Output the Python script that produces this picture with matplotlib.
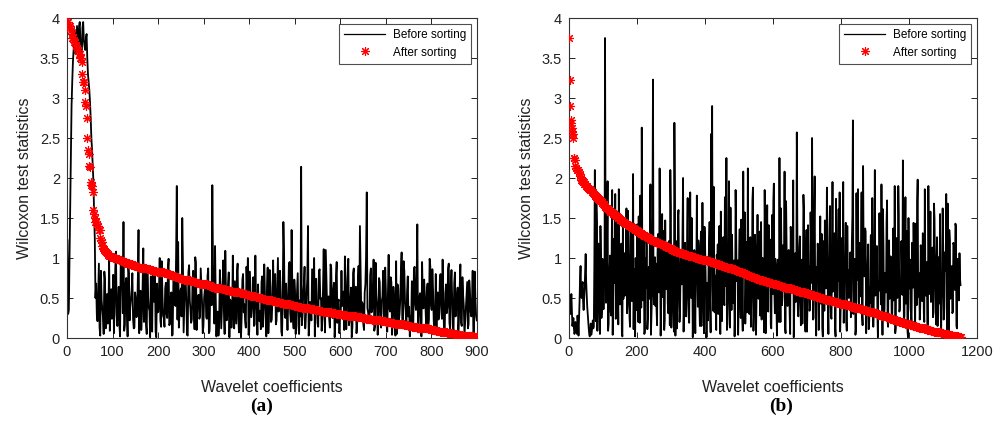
import matplotlib
matplotlib.use("Agg")
import matplotlib.pyplot as plt
from matplotlib.ticker import FuncFormatter

plt.rcParams['font.family'] = ['Liberation Sans', 'DejaVu Sans']

# ---------------- data ----------------
# Two interleaved read-outs per panel: samples at x = 1 + 3i and at x = 2.5 + 3i.
coef_step = 1.5

# panel (a): 900 wavelet coefficients, before sorting
before_a_head = [1.22, 0.35, 1.6, 2.9, 3.45, 3.7, 3.55, 3.9, 3.62, 3.95, 3.5,
                 3.88, 3.72, 3.6, 3.8, 3.3, 3.1, 2.75, 2.35, 1.95, 1.25]
before_a_head_mid = [0.30, 1.00, 2.30, 3.20, 3.60, 3.85, 3.65, 3.75, 3.90, 3.70, 3.55,
                     3.95, 3.65, 3.75, 3.50, 3.20, 2.95, 2.50, 2.15, 1.55, 0.50]
before_a_tail = [
    0.68, 0.21, 0.93, 0.03, 0.47, 0.26, 0.83, 0.12, 0.55, 0.37,
    0.09, 0.61, 0.33, 0.06, 0.88, 0.29, 0.44, 0.17, 1.01, 0.72,
    1.45, 0.16, 0.75, 0.02, 0.81, 0.39, 0.60, 0.24, 0.13, 0.49,
    0.30, 1.35, 0.42, 0.10, 0.66, 0.20, 0.90, 0.05, 0.53, 0.34,
    0.77, 0.08, 0.51, 0.86, 0.01, 0.32, 0.63, 0.22, 0.96, 0.28,
    0.14, 0.69, 0.25, 0.99, 0.18, 0.57, 0.04, 0.79, 0.40, 1.90,
    1.20, 0.31, 0.62, 1.50, 0.07, 0.74, 0.45, 0.03, 0.91, 0.36,
    0.23, 0.84, 0.11, 0.94, 0.38, 0.54, 0.27, 0.67, 0.06, 0.50,
    0.71, 0.24, 0.87, 0.09, 0.59, 1.91, 0.43, 1.15, 0.02, 0.33,
    0.19, 0.65, 0.35, 0.97, 0.05, 0.56, 0.28, 0.82, 0.48, 0.13,
    1.03, 0.12, 0.46, 0.80, 0.25, 0.61, 0.01, 0.73, 0.32, 0.21,
    0.89, 1.00, 0.08, 0.53, 0.37, 0.76, 0.17, 0.42, 0.04, 0.30,
    0.34, 0.70, 0.14, 0.92, 0.26, 0.63, 0.06, 0.85, 0.20, 0.51,
    0.44, 0.80, 0.22, 1.00, 0.39, 0.57, 0.03, 1.45, 0.29, 0.68,
    0.10, 0.91, 0.31, 1.35, 0.24, 0.73, 0.05, 0.60, 0.16, 0.47,
    2.14, 0.27, 0.66, 0.12, 0.55, 1.40, 0.20, 0.41, 0.86, 0.36,
    0.02, 0.74, 0.18, 0.83, 0.49, 0.09, 0.62, 0.30, 1.10, 0.38,
    0.52, 0.13, 0.88, 0.25, 0.69, 0.21, 0.95, 0.45, 0.06, 0.34,
    0.40, 0.58, 1.02, 0.11, 0.72, 0.16, 0.48, 0.01, 0.81, 0.28,
    0.64, 0.19, 0.90, 1.40, 0.29, 0.43, 0.10, 0.67, 1.82, 0.32,
    0.22, 0.87, 0.36, 0.98, 0.14, 0.54, 0.04, 0.75, 0.26, 0.46,
    0.84, 0.17, 0.59, 0.08, 1.04, 0.33, 0.70, 0.23, 0.50, 0.03,
    0.05, 0.62, 0.30, 0.82, 0.20, 0.96, 0.44, 0.12, 0.77, 0.39,
    0.27, 0.71, 0.09, 0.89, 0.35, 1.42, 0.18, 0.56, 0.02, 0.49,
    0.73, 0.37, 0.60, 0.15, 0.99, 0.42, 0.86, 0.21, 0.31, 0.06,
    0.57, 0.29, 0.80, 0.24, 0.47, 0.03, 0.67, 0.38, 0.93, 0.11,
    0.85, 0.14, 0.69, 0.27, 0.52, 0.07, 0.63, 0.19, 0.76, 0.40,
    0.20, 0.55, 0.12, 0.72, 0.33, 0.45, 0.04, 0.83, 0.28,
]
before_a_tail_mid = [
    0.28, 0.56, 0.13, 0.84, 0.36, 0.05, 0.71, 0.44, 0.18, 0.97,
    0.52, 0.24, 0.79, 0.40, 1.08, 0.15, 0.64, 0.02, 0.88, 0.31,
    0.09, 0.67, 0.34, 0.92, 0.22, 0.48, 0.81, 0.12, 0.57, 0.26,
    0.74, 0.06, 0.59, 0.29, 1.12, 0.43, 0.17, 0.83, 0.38, 0.01,
    0.21, 0.89, 0.45, 0.08, 0.68, 0.33, 1.00, 0.14, 0.55, 0.25,
    0.62, 0.30, 0.86, 0.16, 0.50, 0.03, 0.73, 0.42, 1.05, 0.23,
    0.13, 0.58, 0.27, 0.94, 0.39, 0.72, 0.04, 0.82, 0.47, 0.19,
    0.69, 0.35, 1.01, 0.10, 0.53, 0.24, 0.87, 0.44, 0.15, 0.60,
    0.26, 0.78, 0.06, 0.63, 0.41, 0.90, 0.18, 0.51, 0.32, 0.03,
    0.85, 0.12, 0.57, 0.37, 1.09, 0.22, 0.66, 0.01, 0.46, 0.30,
    0.34, 0.71, 0.18, 0.93, 0.07, 0.52, 0.29, 0.80, 0.42, 0.13,
    0.60, 0.04, 0.83, 0.26, 0.49, 0.15, 1.03, 0.36, 0.67, 0.21,
    0.11, 0.77, 0.40, 0.56, 0.02, 0.88, 0.31, 0.64, 0.23, 0.97,
    0.72, 0.17, 0.61, 0.33, 0.84, 0.08, 0.47, 1.06, 0.25, 0.39,
    0.43, 0.95, 0.20, 0.68, 0.12, 0.58, 0.36, 0.81, 0.05, 0.27,
    0.16, 0.54, 0.89, 0.30, 0.75, 0.03, 0.45, 0.22, 0.62, 1.00,
    0.65, 0.38, 0.14, 0.86, 0.50, 0.26, 1.11, 0.07, 0.71, 0.33,
    0.24, 0.92, 0.41, 0.59, 0.01, 0.78, 0.19, 0.48, 0.31, 0.84,
    0.56, 0.10, 0.74, 0.35, 0.99, 0.23, 0.63, 0.14, 0.87, 0.42,
    0.06, 0.69, 0.28, 0.82, 0.45, 0.17, 0.57, 1.02, 0.37, 0.20,
    0.79, 0.32, 0.61, 0.09, 0.94, 0.41, 0.25, 0.70, 0.13, 0.52,
    0.30, 0.88, 0.16, 0.55, 0.38, 0.76, 0.04, 0.64, 0.22, 0.96,
    0.67, 0.21, 0.47, 1.07, 0.12, 0.83, 0.34, 0.58, 0.27, 0.02,
    0.18, 0.60, 0.86, 0.43, 0.73, 0.07, 0.51, 0.29, 0.95, 0.37,
    0.53, 0.14, 0.68, 0.24, 0.90, 0.35, 0.61, 0.05, 0.80, 0.45,
    0.23, 0.75, 0.40, 0.98, 0.11, 0.56, 0.31, 0.87, 0.19, 0.66,
    0.48, 0.08, 0.82, 0.36, 0.63, 0.26, 0.92, 0.15, 0.54, 0.03,
    0.39, 0.70, 0.17, 0.59, 0.27, 0.84, 0.10, 0.50, 0.22,
]

# panel (b): 1150 wavelet coefficients, before sorting
before_b_head = [0.50, 0.30, 0.55, 0.15, 0.25, 0.05, 0.20, 0.10, 0.28, 0.03,
                 0.45, 0.90, 0.50, 0.70, 0.35, 0.62, 1.05, 0.55, 0.30, 0.12,
                 0.02, 0.18, 0.08, 0.22, 0.15]
before_b_head_mid = [0.40, 0.42, 0.35, 0.20, 0.12, 0.08, 0.15, 0.05, 0.18, 0.25,
                     0.75, 0.60, 0.65, 0.45, 0.50, 0.85, 0.70, 0.40, 0.20, 0.05,
                     0.10, 0.04, 0.15, 0.12, 0.90]
before_b_tail = [
    2.10, 0.21, 1.45, 0.52, 1.12, 0.05, 0.98, 0.38, 0.81, 0.66,
    3.75, 0.44, 1.25, 0.09, 0.70, 1.03, 0.28, 1.85, 0.58, 0.88,
    1.80, 0.33, 1.58, 0.17, 0.92, 0.62, 1.18, 0.02, 0.49, 1.06,
    0.76, 1.62, 0.41, 1.10, 0.26, 1.38, 0.55, 0.96, 0.11, 0.68,
    1.00, 0.35, 0.84, 1.52, 0.19, 0.71, 2.63, 0.47, 1.28, 0.07,
    0.63, 1.14, 0.24, 0.89, 1.35, 0.04, 0.53, 3.23, 0.42, 1.01,
    0.93, 0.16, 1.30, 0.57, 1.04, 0.37, 1.55, 0.74, 0.10, 1.47,
    0.61, 1.09, 0.31, 0.86, 2.10, 0.13, 0.99, 0.48, 2.69, 0.03,
    1.21, 0.45, 1.60, 0.20, 0.79, 0.67, 1.42, 0.08, 0.97, 0.36,
    0.56, 1.75, 0.27, 1.16, 0.72, 1.50, 0.01, 0.90, 0.43, 1.07,
    1.78, 0.39, 1.05, 0.15, 1.33, 0.64, 0.83, 0.06, 1.24, 0.50,
    0.69, 0.22, 1.19, 0.46, 2.55, 2.90, 0.34, 0.95, 0.78, 0.10,
    0.87, 0.30, 1.40, 0.05, 1.02, 0.59, 1.26, 0.41, 0.65, 2.25,
    0.18, 1.13, 0.54, 1.63, 0.35, 0.80, 0.94, 0.02, 1.85, 0.73,
    0.97, 0.44, 1.36, 0.25, 1.20, 0.09, 0.85, 1.57, 0.60, 0.32,
    2.12, 0.51, 1.06, 0.14, 0.75, 1.88, 0.38, 1.29, 0.04, 0.88,
    0.62, 1.01, 0.28, 1.45, 0.47, 0.91, 0.07, 1.17, 0.70, 1.66,
    0.33, 0.84, 1.23, 0.12, 1.54, 1.72, 0.58, 0.99, 0.42, 0.66,
    0.74, 2.25, 0.20, 1.04, 0.52, 0.90, 2.08, 0.06, 1.15, 0.40,
    1.10, 0.29, 1.39, 0.63, 0.95, 0.01, 0.82, 0.45, 2.57, 0.36,
    0.55, 1.27, 0.16, 0.98, 0.69, 1.60, 0.31, 0.87, 0.08, 1.41,
    0.90, 0.39, 1.08, 2.50, 0.23, 1.48, 0.60, 0.03, 0.77, 1.00,
    0.48, 1.52, 0.71, 0.13, 1.21, 0.34, 1.05, 0.80, 1.35, 0.05,
    1.03, 0.57, 0.24, 1.95, 0.67, 1.31, 0.02, 0.89, 0.43, 1.61,
    1.82, 0.37, 1.14, 0.62, 0.19, 0.96, 1.44, 0.09, 0.82, 0.50,
    0.73, 0.26, 1.20, 2.72, 0.46, 0.99, 0.11, 0.86, 1.86, 0.41,
    0.59, 1.06, 0.30, 2.15, 0.79, 1.37, 0.06, 0.65, 1.17, 0.21,
    0.44, 1.29, 1.75, 0.14, 0.93, 0.53, 1.01, 0.32, 0.70, 1.56,
    0.85, 1.92, 0.04, 1.11, 0.36, 0.61, 1.46, 0.22, 0.97, 0.49,
    1.02, 0.27, 0.76, 0.47, 1.90, 0.12, 1.25, 0.66, 1.53, 0.35,
    0.58, 0.92, 2.22, 0.18, 1.09, 0.43, 1.34, 0.01, 0.72, 0.98,
    0.29, 1.19, 0.63, 0.95, 0.10, 1.43, 1.70, 0.51, 0.81, 0.38,
    1.04, 0.46, 1.27, 0.20, 0.88, 0.67, 0.07, 1.90, 0.55, 1.58,
    0.69, 1.13, 0.32, 1.50, 0.56, 0.94, 0.15, 1.01, 0.78, 0.40,
    0.50, 1.62, 0.23, 1.07, 0.84, 0.37, 1.68, 0.04, 1.22, 0.64,
    0.90, 0.33, 1.16, 0.60, 1.40, 0.12, 0.99, 0.47, 0.75,
]
before_b_tail_mid = [
    0.47, 1.71, 0.09, 1.18, 0.63, 1.40, 0.25, 0.99, 0.36, 0.80,
    1.36, 0.55, 1.96, 0.17, 0.88, 0.33, 1.02, 0.04, 1.24, 0.69,
    0.24, 1.12, 0.61, 1.86, 0.42, 0.95, 0.07, 1.49, 0.77, 0.53,
    1.05, 0.31, 1.59, 0.72, 0.14, 1.30, 0.46, 2.05, 0.86, 0.02,
    0.66, 1.42, 0.20, 0.91, 1.78, 0.38, 1.15, 0.58, 0.05, 1.00,
    1.27, 0.11, 0.82, 0.49, 1.92, 0.28, 1.55, 0.64, 0.97, 0.40,
    0.35, 1.08, 0.70, 2.12, 0.03, 0.93, 0.51, 1.34, 0.22, 0.78,
    0.89, 0.43, 1.21, 0.16, 1.64, 0.60, 1.03, 0.08, 1.74, 0.57,
    0.12, 1.51, 0.84, 0.34, 1.06, 0.74, 2.00, 0.45, 1.19, 0.27,
    1.31, 0.62, 0.19, 1.82, 0.50, 0.96, 0.37, 1.10, 0.06, 0.81,
    0.73, 1.22, 0.41, 0.99, 0.15, 1.69, 0.59, 1.39, 0.87, 0.01,
    0.26, 0.92, 1.45, 0.07, 1.14, 0.65, 1.89, 0.32, 0.54, 1.04,
    1.17, 0.39, 0.76, 1.58, 0.21, 1.01, 0.48, 1.76, 0.68, 0.10,
    0.57, 1.96, 0.13, 0.85, 1.29, 0.44, 0.97, 0.29, 1.37, 0.71,
    0.04, 1.06, 0.63, 1.48, 0.35, 2.08, 0.79, 0.18, 1.20, 0.52,
    0.94, 0.30, 1.26, 0.46, 1.72, 0.09, 0.67, 1.03, 0.42, 1.54,
    0.49, 1.33, 0.83, 0.23, 1.00, 0.61, 1.85, 0.06, 1.12, 0.38,
    1.41, 0.72, 0.16, 1.09, 0.55, 1.93, 0.31, 0.90, 0.03, 0.98,
    0.20, 0.87, 1.62, 0.41, 1.16, 0.70, 0.12, 1.71, 0.58, 1.02,
    0.80, 0.05, 1.23, 0.64, 1.97, 0.36, 1.06, 0.47, 1.44, 0.27,
    1.13, 0.53, 0.95, 0.18, 1.79, 0.75, 0.08, 1.35, 0.44, 0.66,
    0.34, 1.57, 0.69, 1.01, 0.25, 2.02, 0.56, 0.89, 1.18, 0.10,
    0.96, 0.43, 1.30, 0.02, 0.83, 1.47, 0.62, 1.88, 0.33, 0.76,
    1.65, 0.27, 0.92, 0.58, 1.11, 0.13, 1.74, 0.40, 1.00, 0.71,
    0.08, 1.25, 0.46, 1.95, 0.68, 0.98, 0.21, 1.40, 0.85, 0.55,
    1.07, 0.61, 1.53, 0.30, 0.91, 0.04, 1.81, 0.73, 0.45, 1.19,
    0.52, 1.82, 0.16, 1.04, 0.77, 1.33, 0.39, 0.95, 0.11, 0.63,
    1.28, 0.35, 0.86, 0.48, 2.10, 0.67, 1.15, 0.01, 0.59, 0.97,
    0.42, 1.03, 1.61, 0.24, 0.81, 0.57, 1.72, 0.14, 1.22, 0.70,
    0.93, 0.19, 1.37, 0.74, 0.06, 1.09, 0.50, 1.90, 0.33, 0.64,
    1.21, 0.54, 0.99, 0.28, 1.76, 0.84, 0.09, 1.50, 0.62, 0.37,
    0.13, 0.88, 1.44, 0.60, 1.06, 0.41, 1.98, 0.72, 0.23, 1.16,
    0.69, 1.31, 0.32, 1.86, 0.53, 0.95, 0.05, 1.10, 0.79, 0.45,
    1.02, 0.26, 1.68, 0.82, 0.17, 1.26, 0.65, 0.43, 1.55, 0.08,
    0.58, 1.14, 0.37, 0.96, 1.80, 0.03, 0.76, 1.35, 0.49, 0.87,
    0.31, 1.19, 0.71, 1.43, 0.15, 0.94, 0.52, 1.06, 0.66,
]


def interleave(first, second):
    return [v for pair in zip(first, second) for v in pair]


before_a = interleave(before_a_head + before_a_tail, before_a_head_mid + before_a_tail_mid)
before_b = interleave(before_b_head + before_b_tail, before_b_head_mid + before_b_tail_mid)
# "after sorting" = the same statistics sorted in descending order
after_a = sorted(before_a, reverse=True)
after_b = sorted(before_b, reverse=True)

x_ticks_a = [0, 100, 200, 300, 400, 500, 600, 700, 800, 900]
x_ticks_b = [0, 200, 400, 600, 800, 1000, 1200]
y_ticks = [0, 0.5, 1, 1.5, 2, 2.5, 3, 3.5, 4]
x_label = "Wavelet coefficients"
y_label = "Wilcoxon test statistics"
legend_labels = ["Before sorting", "After sorting"]
panel_tags = ["(a)", "(b)"]

# ---------------- figure ----------------
W, H = 1003, 421
fig = plt.figure(figsize=(W / 100, H / 100), dpi=100)

def px_axes(left, top, right, bottom):
    return [left / W, 1 - bottom / H, (right - left) / W, (bottom - top) / H]

axes_boxes = [px_axes(67, 18, 477, 338), px_axes(569, 18, 977, 338)]
datasets = [(before_a, after_a, x_ticks_a), (before_b, after_b, x_ticks_b)]
tag_x = [262, 781]

for box, (bef, aft, xt), tag, tx in zip(axes_boxes, datasets, panel_tags, tag_x):
    ax = fig.add_axes(box)
    xs = [1 + coef_step * i for i in range(len(bef))]
    ax.plot(xs, bef, color='black', lw=1.3, label=legend_labels[0], zorder=2)
    ax.plot(xs, aft, linestyle='none', marker=(8, 2, 0), markersize=6.5,
            markeredgewidth=0.8, color='red', markeredgecolor='red',
            label=legend_labels[1], zorder=3)
    ax.set_xlim(xt[0], xt[-1])
    ax.set_ylim(0, 4)
    ax.set_xticks(xt)
    ax.set_yticks(y_ticks)
    fmt = FuncFormatter(lambda v, p: f"{v:g}")
    ax.xaxis.set_major_formatter(fmt)
    ax.yaxis.set_major_formatter(fmt)
    ax.tick_params(direction='in', top=True, right=True, length=4, width=0.7,
                   labelsize=10.5, pad=5, colors='#222222')
    for s in ax.spines.values():
        s.set_linewidth(0.8)
        s.set_color('#333333')
    ax.set_xlabel(x_label, fontsize=11.5, color='#222222')
    ax.set_ylabel(y_label, fontsize=11.5, color='#222222')
    ax.xaxis.set_label_coords(0.5, -0.13)
    ax.yaxis.set_label_coords(-0.085, 0.5)
    leg = ax.legend(loc='upper right', fontsize=8.5, frameon=True, fancybox=False,
                    borderaxespad=0.5, handlelength=3.5, handletextpad=0.6,
                    borderpad=0.45, labelspacing=0.45)
    leg.get_frame().set_edgecolor('#222222')
    leg.get_frame().set_linewidth(0.8)
    for h in leg.get_lines():
        if h.get_linestyle() == '-':
            h.set_linewidth(0.9)
    fig.text(tx / W, 1 - 406 / H, tag, ha='center', va='center',
             fontsize=14, fontweight='bold', family='Liberation Serif')

fig.savefig("out.png", dpi=100)
